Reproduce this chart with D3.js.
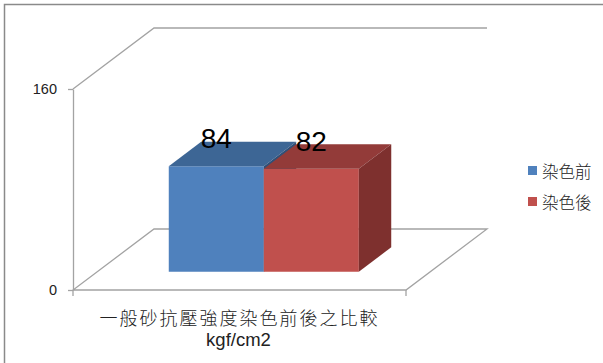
<!DOCTYPE html>
<html>
<head>
<meta charset="utf-8">
<script src="https://cdn.jsdelivr.net/npm/d3@7"></script>
<style>
  body { margin: 0; background: #fff; }
  svg { display: block; }
</style>
</head>
<body>
<svg id="chart" width="603" height="363"></svg>
<script>
// data
var categories = ['一般砂抗壓強度染色前後之比較'];
var categoryLines = ['一般砂抗壓強度染色前後之比較', 'kgf/cm2'];
var seriesNames = ['染色前', '染色後'];
var values = [84, 82];
var yTicks = [0, 160];

var colors = {
  front: ['#4F81BD', '#C0504D'],
  top: ['#3D6695', '#933B39'],
  side: ['#2F5078', '#7E302E']
};

var svg = d3.select('#chart');
var lineColor = '#a3a3a3';

// 3d depth offset (x, y) of the whole floor
var depthX = 81, depthY = -61;
var barZ0 = 0.3, barZ1 = 0.7;

var xCat = d3.scaleBand()
    .domain(categories)
    .range([73, 406])
    .paddingInner(0)
    .paddingOuter(0.376);

var xSeries = d3.scaleBand()
    .domain(seriesNames)
    .range([0, xCat.bandwidth()]);

var y = d3.scaleLinear()
    .domain([0, 160])
    .range([290, 89]);

function P(x, yy, z) {
  return [x + z * depthX, yy + z * depthY];
}
function poly(pts) {
  return 'M' + pts.map(p => p[0] + ',' + p[1]).join('L') + 'Z';
}

// chart frame
svg.append('path')
   .attr('d', 'M4.5,363V4.5H603')
   .attr('fill', 'none')
   .attr('stroke', '#8a8a8a')
   .attr('stroke-width', 1.5);

var x0 = xCat.range()[0], x1 = xCat.range()[1];
var yMax = y(d3.max(yTicks)), yMin = y(0);

// walls and floor
var g = svg.append('g')
    .attr('fill', 'none')
    .attr('stroke', lineColor)
    .attr('stroke-width', 1.3);

g.append('path')
 .attr('d', 'M' + P(x0, yMax, 0) + 'L' + P(x0, yMax, 1) + 'L' + P(x1, yMax, 1));

g.append('path')
 .attr('d', poly([P(x0, yMin, 0), P(x1, yMin, 0), P(x1, yMin, 1), P(x0, yMin, 1)]));

// category ticks
g.append('path').attr('d', 'M' + x0 + ',' + yMin + 'V' + (yMin + 6));
g.append('path').attr('d', 'M' + x1 + ',' + yMin + 'V' + (yMin + 6));

// value axis
var yAxis = d3.axisLeft(y)
    .tickValues(yTicks)
    .tickSize(5)
    .tickSizeOuter(0)
    .tickPadding(11);

var ax = svg.append('g')
    .attr('transform', 'translate(' + x0 + ',0)')
    .call(yAxis);
ax.select('.domain').attr('stroke', lineColor).attr('stroke-width', 1.3);
ax.selectAll('.tick line').attr('stroke', lineColor).attr('stroke-width', 1.3);
ax.selectAll('.tick text')
  .attr('font-family', 'Liberation Sans, Arial, sans-serif')
  .attr('font-size', '14.5px')
  .attr('fill', '#222');

// bars
var bars = svg.selectAll('g.bar')
    .data(values)
    .enter()
    .append('g')
    .attr('class', 'bar');

bars.each(function(d, i) {
  var b = d3.select(this);
  var bx0 = xCat(categories[0]) + xSeries(seriesNames[i]);
  var bx1 = bx0 + xSeries.bandwidth();
  var yT = y(d), yB = y(0);
  b.append('path')
   .attr('d', poly([P(bx0, yT, barZ0), P(bx1, yT, barZ0), P(bx1, yB, barZ0), P(bx0, yB, barZ0)]))
   .attr('fill', colors.front[i]);
  b.append('path')
   .attr('d', poly([P(bx0, yT, barZ0), P(bx1, yT, barZ0), P(bx1, yT, barZ1), P(bx0, yT, barZ1)]))
   .attr('fill', colors.top[i]);
  b.append('path')
   .attr('d', poly([P(bx1, yT, barZ0), P(bx1, yB, barZ0), P(bx1, yB, barZ1), P(bx1, yT, barZ1)]))
   .attr('fill', colors.side[i]);
});

// value labels
bars.append('text')
    .text(d => d)
    .attr('x', (d, i) => P(xCat(categories[0]) + xSeries(seriesNames[i]) + xSeries.bandwidth() / 2, 0, barZ0)[0])
    .attr('y', d => P(0, y(d), barZ0)[1] - 18)
    .attr('text-anchor', 'middle')
    .attr('font-family', 'Liberation Sans, Arial, sans-serif')
    .attr('font-size', '28px')
    .attr('fill', '#000');

// category label
var cx = xCat(categories[0]) + xCat.bandwidth() / 2;
svg.append('text')
   .text(categoryLines[0])
   .attr('x', cx)
   .attr('y', 325)
   .attr('text-anchor', 'middle')
   .attr('font-family', 'Noto Sans CJK TC, sans-serif')
   .attr('font-weight', 300)
   .attr('font-size', '18px')
   .attr('letter-spacing', '2px')
   .attr('fill', '#222');

svg.append('text')
   .text(categoryLines[1])
   .attr('x', cx - 1)
   .attr('y', 346)
   .attr('text-anchor', 'middle')
   .attr('font-family', 'Liberation Sans, Arial, sans-serif')
   .attr('font-size', '18.5px')
   .attr('fill', '#222');

// legend
var legend = svg.selectAll('g.legend')
    .data(seriesNames)
    .enter()
    .append('g')
    .attr('class', 'legend')
    .attr('transform', (d, i) => 'translate(528,' + (166 + i * 31) + ')');

legend.append('rect')
    .attr('width', 9)
    .attr('height', 9)
    .attr('fill', (d, i) => colors.front[i]);

legend.append('text')
    .text(d => d)
    .attr('x', 14)
    .attr('y', 4.5)
    .attr('dominant-baseline', 'central')
    .attr('font-family', 'Noto Sans CJK TC, sans-serif')
    .attr('font-weight', 300)
    .attr('font-size', '16.5px')
    .attr('fill', '#222');
</script>
</body>
</html>
